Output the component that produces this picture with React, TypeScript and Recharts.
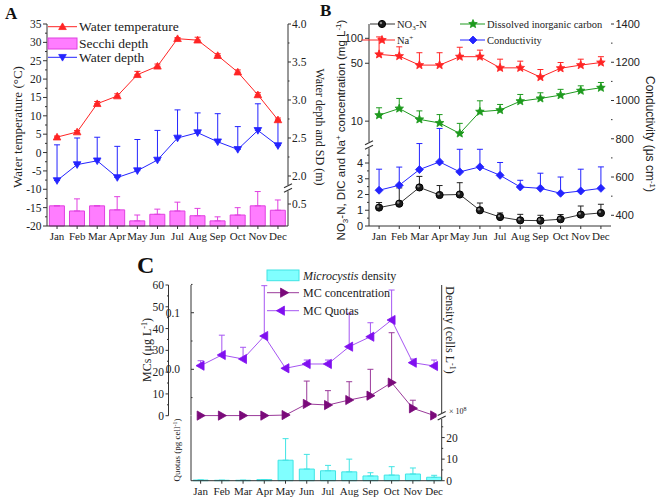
import React from 'react';
import { ComposedChart, Line, Bar, XAxis, YAxis, ErrorBar } from 'recharts';

const months = ['Jan', 'Feb', 'Mar', 'Apr', 'May', 'Jun', 'Jul', 'Aug', 'Sep', 'Oct', 'Nov', 'Dec'];

// panel A
const waterTemp = [4.2, 5.6, 13.3, 15.4, 21.2, 23.5, 31.0, 30.6, 26.4, 21.9, 15.7, 8.9];
const waterTempErr = [0.3, 0.4, 0.6, 0.6, 0.9, 0.6, 0.3, 0.8, 0.5, 0.6, 0.6, 0.5];
const waterDepth = [1.94, 2.15, 2.2, 1.98, 2.07, 2.21, 2.5, 2.57, 2.45, 2.35, 2.6, 2.4];
const waterDepthErr = [0.47, 0.35, 0.31, 0.41, 0.41, 0.39, 0.37, 0.26, 0.37, 0.3, 0.35, 0.33];
const secchi = [0.475, 0.405, 0.475, 0.42, 0.27, 0.36, 0.405, 0.34, 0.27, 0.35, 0.475, 0.415];
const secchiErr = [0, 0.165, 0, 0.18, 0.08, 0.07, 0.12, 0.1, 0.055, 0.1, 0.195, 0.14];

// panel B
const no3 = [1.17, 1.42, 2.45, 1.97, 2.0, 1.0, 0.57, 0.36, 0.34, 0.43, 0.72, 0.83];
const no3Err = [0.32, 1.0, 0.7, 0.6, 0.75, 0.46, 0.26, 0.38, 0.34, 0.3, 0.55, 0.55];
const sodium = [64, 61, 47.5, 47.5, 60, 60, 44, 44, 34, 43.5, 47.5, 51];
const sodiumErr = [40, 18, 19.5, 19.5, 18, 12, 12, 9, 8, 7.5, 8.5, 9];
const dic = [11.8, 14.2, 10.5, 9.5, 7.1, 13.0, 13.6, 17.4, 18.8, 20.6, 23.3, 25.3];
const dicErr = [2.7, 4.6, 2.8, 2.5, 2.3, 4.6, 2.3, 3.6, 3.2, 3.6, 3.4, 4.0];
const conductivity = [531, 557, 639, 679, 627, 653, 609, 548, 541, 515, 527, 541];
const conductivityErr = [110, 95, 136, 175, 118, 92, 67, 35, 79, 85, 114, 112];

// panel C
const mcConc = [0.05, 0.05, 0.05, 0.05, 0.3, 5.4, 4.9, 7.2, 9.2, 15.2, 3.4, 0.1];
const mcConcErr = [0, 0, 0, 0, 0, 10.5, 6.6, 8.4, 12.1, 22.9, 3.7, 0];
const mcQuota = [0.0064, 0.0253, 0.0182, 0.0588, 0.0018, 0.0094, 0.0094, 0.04, 0.0576, 0.0871, 0.0117, 0.0058];
const mcQuotaErr = [0.0088, 0.035, 0.0207, 0.089, 0, 0.007, 0.007, 0.059, 0.0247, 0.053, 0.0065, 0.0106];
const density = [0.3, 0.2, 0.2, 0.5, 9.5, 5.4, 4.6, 4.1, 2.2, 2.6, 3.1, 1.6];
const densityErr = [0, 0, 0, 0, 10, 6.8, 2.5, 5.9, 1.5, 3.9, 2.8, 0.9];

// tick labels
const tempTicks = [-20, -15, -10, -5, 0, 5, 10, 15, 20, 25, 30, 35];
const depthTicks = [2.0, 2.5, 3.0, 3.5, 4.0];
const sdTicks = [0.5];
const no3Ticks = [0, 1, 2, 3, 4];
const concTicks = [10, 50, 100];
const condTicks = [400, 600, 800, 1000, 1200, 1400];
const mcTicks = [0, 10, 20, 30, 40, 50, 60];
const quotaTicks = [0.0, 0.1];
const quotaMinor = [-0.05, 0.05, 0.15];
const densTicks = [0, 10, 20];

const SERIF = '"Liberation Serif", "DejaVu Serif", serif';
const SANS = '"Liberation Sans", Arial, sans-serif';
const AXIS = '#333';
const TXT = '#222';

const RED = '#ff2424';
const BLUE = '#2424ff';
const PINK = '#ff7dff';
const PINK_S = '#e040e0';
const GREEN = '#1e9a1e';
const MC_C = '#7a0a7a';
const MC_C_LINE = '#9a3a9a';
const MC_Q = '#8010f0';
const MC_Q_LINE = '#a656f2';
const CYAN = '#80ffff';
const CYAN_S = '#40e4e4';

// axis ranges (the broken axes are stitched from these)
const D0 = 1.342, D1 = 4.0; // water depth
const S0 = 0.2, S1 = 2.955; // secchi depth
const N1 = 12.83; // NO3-N linear part
const L0 = 0.542, L1 = 148.9; // log part for DIC / Na+
const M1 = 60; // MCs
const Q0 = -0.082, Q1 = 0.149; // MC quotas
const C_PLOT_H = 130.7; // height of the upper plot in panel C

const sdOnDepth = (v: number) => D0 + ((v - S0) / (S1 - S0)) * (D1 - D0);
const logOnLin = (v: number) =>
  ((Math.log10(v) - Math.log10(L0)) / (Math.log10(L1) - Math.log10(L0))) * N1;
const quotaOnMc = (v: number) => ((v - Q0) / (Q1 - Q0)) * M1;

const rowsA = months.map((m, i) => ({
  m,
  temp: waterTemp[i],
  tempE: [0, waterTempErr[i]],
  depth: waterDepth[i],
  depthE: [0, waterDepthErr[i]],
  sd: secchi[i],
  sdE: [0, secchiErr[i]],
}));

const rowsB = months.map((m, i) => ({
  m,
  no3: no3[i],
  no3E: [0, no3Err[i]],
  na: sodium[i],
  naE: [0, sodiumErr[i]],
  dic: dic[i],
  dicE: [0, dicErr[i]],
  cond: conductivity[i],
  condE: [0, conductivityErr[i]],
}));

const rowsC = months.map((m, i) => ({
  m,
  mc: mcConc[i],
  mcE: [0, mcConcErr[i]],
  q: mcQuota[i],
  qE: [0, mcQuotaErr[i]],
  dens: density[i],
  densE: [0, densityErr[i]],
}));

type Kind = 'up' | 'down' | 'left' | 'right' | 'diamond' | 'star' | 'circle';

function Marker({ kind, cx, cy, r, fill, stroke }: { kind: Kind; cx: number; cy: number; r: number; fill: string; stroke?: string }) {
  if (cx == null || cy == null) return null;
  if (kind === 'circle') {
    return (
      <g>
        <circle cx={cx} cy={cy} r={r} fill={fill} stroke={stroke ?? fill} strokeWidth={1} />
        <circle cx={cx - r * 0.3} cy={cy - r * 0.3} r={r * 0.35} fill="#888" />
      </g>
    );
  }
  let pts: number[][] = [];
  if (kind === 'up') pts = [[0, -r], [-r, 0.75 * r], [r, 0.75 * r]];
  if (kind === 'down') pts = [[0, r], [-r, -0.75 * r], [r, -0.75 * r]];
  if (kind === 'right') pts = [[r, 0], [-0.75 * r, -r], [-0.75 * r, r]];
  if (kind === 'left') pts = [[-r, 0], [0.75 * r, -r], [0.75 * r, r]];
  if (kind === 'diamond') pts = [[0, -r], [r, 0], [0, r], [-r, 0]];
  if (kind === 'star') {
    for (let k = 0; k < 10; k++) {
      const a = -Math.PI / 2 + (k * Math.PI) / 5;
      const rr = k % 2 === 0 ? r : r * 0.45;
      pts.push([rr * Math.cos(a), rr * Math.sin(a)]);
    }
  }
  return (
    <polygon
      points={pts.map(([a, b]) => `${cx + a},${cy + b}`).join(' ')}
      fill={fill}
      stroke={stroke ?? fill}
      strokeWidth={0.8}
    />
  );
}

const dotOf = (kind: Kind, r: number, fill: string, stroke?: string) => (p: any) => (
  <Marker key={`${kind}-${p.index}`} kind={kind} cx={p.cx} cy={p.cy} r={r} fill={fill} stroke={stroke} />
);

type TickDef = {
  v: number;
  label?: string;
  minor?: boolean;
  brk?: boolean;
  at?: number;
  inward?: boolean;
  gap?: number;
  vline?: number;
};
type TickOpts = { font: string; size: number; lineX: number; inward?: boolean; len?: number; gap?: number };

const withMinors = (majors: number[], fmt: (v: number) => string): TickDef[] => {
  const out: TickDef[] = [];
  majors.forEach((v, i) => {
    out.push({ v, label: fmt(v) });
    if (i < majors.length - 1) out.push({ v: (v + majors[i + 1]) / 2, minor: true });
  });
  return out;
};

// lineX = where the axis line sits inside its chart
function makeTick(defs: TickDef[], side: 'left' | 'right', o: TickOpts) {
  return (p: any) => {
    const d = defs.find((t) => Math.abs(t.v - p.payload.value) < 1e-9);
    if (!d) return <g />;
    const x = d.at ?? o.lineX;
    const y = p.y;
    const out = side === 'left' ? -1 : 1;
    if (d.brk) {
      return (
        <g>
          <rect x={x - 5} y={y - 3} width={10} height={6} fill="#fff" />
          <line x1={x - 4} y1={y - 0.5} x2={x + 4} y2={y - 4.5} stroke={AXIS} strokeWidth={1.1} />
          <line x1={x - 4} y1={y + 4} x2={x + 4} y2={y} stroke={AXIS} strokeWidth={1.1} />
        </g>
      );
    }
    const inward = d.inward ?? o.inward;
    const full = o.len ?? 4;
    const len = d.minor ? full / 2 : full;
    const dir = inward ? -out : out;
    const gap = d.gap ?? o.gap ?? 2;
    const lx = inward ? x + out * gap : x + out * (full + gap);
    return (
      <g>
        {d.vline && <line x1={x} y1={y} x2={x} y2={y + d.vline} stroke={AXIS} />}
        <line x1={x} y1={y} x2={x + dir * len} y2={y} stroke={AXIS} />
        {d.label && (
          <text
            x={lx}
            y={y}
            dy="0.35em"
            textAnchor={side === 'left' ? 'end' : 'start'}
            fontFamily={o.font}
            fontSize={o.size}
            fill={TXT}
          >
            {d.label}
          </text>
        )}
      </g>
    );
  };
}

const tempDefs = withMinors(tempTicks, (v) => String(v));
const depthDefs: TickDef[] = [
  ...withMinors(depthTicks, (v) => v.toFixed(1)),
  ...sdTicks.map((v) => ({ v: sdOnDepth(v), label: v.toFixed(1) })),
  { v: 1.84, brk: true },
];
const no3Defs: TickDef[] = [
  ...withMinors(no3Ticks, (v) => String(v)),
  { v: 4.5, minor: true },
  { v: 5.13, brk: true },
  ...concTicks.map((v) => ({ v: logOnLin(v), label: String(v) })),
];
const condDefs = withMinors(condTicks, (v) => String(v));
// MCs axis (outer line) and the quota axis (inner line, ticks pointing in)
const mcDefs: TickDef[] = [
  ...withMinors(mcTicks, (v) => String(v)).map((t) => ({ ...t, at: 58.5, vline: t.v === M1 ? C_PLOT_H : undefined })),
  ...quotaTicks.map((v) => ({ v: quotaOnMc(v), label: v.toFixed(1), at: 81, inward: true, gap: 11 })),
  ...quotaMinor.map((v) => ({ v: quotaOnMc(v), minor: true, at: 81, inward: true })),
];
const upperRightDefs: TickDef[] = [{ v: 1 }, { v: 2 }];
const quotaLowDefs: TickDef[] = [{ v: 0.63 }];
const densDefs: TickDef[] = [...withMinors(densTicks, (v) => String(v)), { v: 25, minor: true }, { v: 30, brk: true }];

const yAxisCommon = {
  interval: 0 as const,
  tickSize: 0,
  tickMargin: 0,
  tickLine: false,
  stroke: AXIS,
  allowDecimals: true,
};

function PanelA() {
  return (
    <ComposedChart width={330} height={250} data={rowsA} margin={{ top: 24, right: 0, bottom: 4, left: 0 }} barCategoryGap="12%">
      <XAxis
        dataKey="m"
        scale="band"
        height={20}
        interval={0}
        tickSize={3}
        tickMargin={3}
        stroke={AXIS}
        tick={{ fontFamily: SERIF, fontSize: 11, fill: TXT }}
      />
      <YAxis
        yAxisId="temp"
        width={47}
        domain={[-20, 35]}
        ticks={tempDefs.map((t) => t.v)}
        tick={makeTick(tempDefs, 'left', { font: SERIF, size: 11.5, lineX: 47, len: 4, gap: 1.5 })}
        {...yAxisCommon}
      />
      <YAxis
        yAxisId="depth"
        orientation="right"
        width={42}
        domain={[D0, D1]}
        ticks={depthDefs.map((t) => t.v)}
        tick={makeTick(depthDefs, 'right', { font: SERIF, size: 11.5, lineX: 288, len: 3, gap: 1 })}
        {...yAxisCommon}
      />
      <YAxis yAxisId="sd" hide orientation="right" domain={[S0, S1]} />
      <Bar yAxisId="sd" dataKey="sd" fill={PINK} stroke={PINK_S} strokeWidth={1} isAnimationActive={false}>
        <ErrorBar dataKey="sdE" width={3} stroke={PINK_S} strokeWidth={1} />
      </Bar>
      <Line
        yAxisId="depth"
        dataKey="depth"
        type="linear"
        stroke={BLUE}
        strokeWidth={1}
        dot={dotOf('down', 3.8, BLUE)}
        activeDot={false}
        isAnimationActive={false}
      >
        <ErrorBar dataKey="depthE" width={3} stroke={BLUE} strokeWidth={1} />
      </Line>
      <Line
        yAxisId="temp"
        dataKey="temp"
        type="linear"
        stroke={RED}
        strokeWidth={1}
        dot={dotOf('up', 3.8, RED)}
        activeDot={false}
        isAnimationActive={false}
      >
        <ErrorBar dataKey="tempE" width={3} stroke={RED} strokeWidth={1} />
      </Line>
    </ComposedChart>
  );
}

function PanelB() {
  return (
    <ComposedChart width={331} height={250} data={rowsB} margin={{ top: 24, right: 0, bottom: 4, left: 0 }}>
      <XAxis
        dataKey="m"
        scale="band"
        height={20}
        interval={0}
        tickSize={3}
        tickMargin={3}
        stroke={AXIS}
        tick={{ fontFamily: SERIF, fontSize: 11, fill: TXT }}
      />
      <YAxis
        yAxisId="no3"
        width={39}
        domain={[0, N1]}
        ticks={no3Defs.map((t) => t.v)}
        tick={makeTick(no3Defs, 'left', { font: SANS, size: 11, lineX: 39, len: 4, gap: 2 })}
        {...yAxisCommon}
      />
      <YAxis
        yAxisId="cond"
        orientation="right"
        width={50}
        domain={[344, 1400]}
        ticks={condDefs.map((t) => t.v)}
        tick={makeTick(condDefs, 'right', { font: SANS, size: 11, lineX: 281, len: 3, gap: 1.5 })}
        {...yAxisCommon}
      />
      <YAxis yAxisId="conc" hide orientation="right" scale="log" domain={[L0, L1]} />
      <Line yAxisId="no3" dataKey="no3" type="linear" stroke="#333" strokeWidth={1} dot={dotOf('circle', 3.6, '#1a1a1a', '#000')} activeDot={false} isAnimationActive={false}>
        <ErrorBar dataKey="no3E" width={3} stroke="#222" strokeWidth={1} />
      </Line>
      <Line yAxisId="cond" dataKey="cond" type="linear" stroke={BLUE} strokeWidth={1} dot={dotOf('diamond', 4, BLUE)} activeDot={false} isAnimationActive={false}>
        <ErrorBar dataKey="condE" width={3} stroke={BLUE} strokeWidth={1} />
      </Line>
      <Line yAxisId="conc" dataKey="dic" type="linear" stroke={GREEN} strokeWidth={1} dot={dotOf('star', 4.5, GREEN)} activeDot={false} isAnimationActive={false}>
        <ErrorBar dataKey="dicE" width={3} stroke={GREEN} strokeWidth={1} />
      </Line>
      <Line yAxisId="conc" dataKey="na" type="linear" stroke={RED} strokeWidth={1} dot={dotOf('star', 4.5, RED)} activeDot={false} isAnimationActive={false}>
        <ErrorBar dataKey="naE" width={3} stroke={RED} strokeWidth={1} />
      </Line>
    </ComposedChart>
  );
}

const xPadC = { left: -1, right: -3 };

function PanelCUpper() {
  return (
    <ComposedChart width={370} height={176} data={rowsC} margin={{ top: 25, right: 0, bottom: 20.3, left: 0 }}>
      <XAxis dataKey="m" scale="band" hide padding={xPadC} />
      <YAxis
        yAxisId="mc"
        width={81}
        domain={[0, M1]}
        ticks={mcDefs.map((t) => t.v)}
        tick={makeTick(mcDefs, 'left', { font: SERIF, size: 11.5, lineX: 58.5, len: 3, gap: 1.5 })}
        {...yAxisCommon}
      />
      <YAxis yAxisId="q" hide domain={[Q0, Q1]} />
      <YAxis
        yAxisId="r"
        orientation="right"
        width={38.3}
        domain={[0, 2]}
        ticks={upperRightDefs.map((t) => t.v)}
        tick={makeTick(upperRightDefs, 'right', { font: SERIF, size: 11, lineX: 331.7, inward: true, len: 4 })}
        {...yAxisCommon}
      />
      <Line yAxisId="mc" dataKey="mc" type="linear" stroke={MC_C_LINE} strokeWidth={1} dot={dotOf('right', 4.6, MC_C)} activeDot={false} isAnimationActive={false}>
        <ErrorBar dataKey="mcE" width={3} stroke={MC_C_LINE} strokeWidth={1} />
      </Line>
      <Line yAxisId="q" dataKey="q" type="linear" stroke={MC_Q_LINE} strokeWidth={1} dot={dotOf('left', 4.6, MC_Q)} activeDot={false} isAnimationActive={false}>
        <ErrorBar dataKey="qE" width={3} stroke={MC_Q_LINE} strokeWidth={1} />
      </Line>
    </ComposedChart>
  );
}

function PanelCLower() {
  return (
    <ComposedChart width={370} height={96} data={rowsC} margin={{ top: 10, right: 0, bottom: 1.3, left: 60 }} barCategoryGap="15%">
      <XAxis
        dataKey="m"
        scale="band"
        padding={xPadC}
        height={20}
        interval={0}
        tickSize={3}
        tickMargin={3}
        stroke={AXIS}
        tick={{ fontFamily: SERIF, fontSize: 11, fill: TXT }}
      />
      <YAxis
        yAxisId="q2"
        width={21}
        domain={[0, 1]}
        ticks={quotaLowDefs.map((t) => t.v)}
        tick={makeTick(quotaLowDefs, 'left', { font: SERIF, size: 11, lineX: 81, inward: true, len: 4 })}
        {...yAxisCommon}
      />
      <YAxis
        yAxisId="dens"
        orientation="right"
        width={38.3}
        domain={[0, 30]}
        ticks={densDefs.map((t) => t.v)}
        tick={makeTick(densDefs, 'right', { font: SERIF, size: 11.5, lineX: 331.7, len: 3, gap: 1.5 })}
        {...yAxisCommon}
      />
      <Bar yAxisId="dens" dataKey="dens" fill={CYAN} stroke={CYAN_S} strokeWidth={1} isAnimationActive={false}>
        <ErrorBar dataKey="densE" width={3} stroke={CYAN_S} strokeWidth={1} />
      </Bar>
    </ComposedChart>
  );
}

function Overlay() {
  const lg = { fontFamily: SERIF, fontSize: 13.5, fill: TXT };
  const lgB = { fontFamily: SERIF, fontSize: 10.5, fill: TXT };
  const lgC = { fontFamily: SERIF, fontSize: 12, fill: TXT };
  return (
    <svg width={661} height={502} style={{ position: 'absolute', left: 0, top: 0, pointerEvents: 'none' }}>
      {/* panel letters */}
      <text x={5} y={19} fontFamily={SERIF} fontWeight="bold" fontSize={17} fill="#111">A</text>
      <text x={320} y={16} fontFamily={SERIF} fontWeight="bold" fontSize={17} fill="#111">B</text>
      <text x={137} y={273} fontFamily={SERIF} fontWeight="bold" fontSize={24} fill="#111">C</text>

      {/* axis titles A */}
      <text transform="translate(22,127) rotate(-90)" textAnchor="middle" fontFamily={SERIF} fontSize={13} fill={TXT}>
        Water temperature (°C)
      </text>
      <text transform="translate(316,127) rotate(90)" textAnchor="middle" fontFamily={SERIF} fontSize={12} fill={TXT}>
        Water depth and SD (m)
      </text>

      {/* axis titles B */}
      <text transform="translate(345,130) rotate(-90)" textAnchor="middle" fontFamily={SANS} fontSize={11.5} fill={TXT}>
        NO<tspan dy={3} fontSize={8}>3</tspan>
        <tspan dy={-3}>-N, DIC and Na</tspan>
        <tspan dy={-4} fontSize={8}>+</tspan>
        <tspan dy={4}> concentration (mg L</tspan>
        <tspan dy={-4} fontSize={8}>-1</tspan>
        <tspan dy={4}>)</tspan>
      </text>
      <text transform="translate(646,134) rotate(90)" textAnchor="middle" fontFamily={SANS} fontSize={12} fill={TXT}>
        Conductivity (μs cm<tspan dy={-4} fontSize={8}>-1</tspan>
        <tspan dy={4}>)</tspan>
      </text>

      {/* axis titles C */}
      <text transform="translate(151,350) rotate(-90)" textAnchor="middle" fontFamily={SERIF} fontSize={12} fill={TXT}>
        MCs (μg L<tspan dy={-4} fontSize={8}>-1</tspan>
        <tspan dy={4}>)</tspan>
      </text>
      <text transform="translate(180,450) rotate(-90)" textAnchor="middle" fontFamily={SERIF} fontSize={9} fill={TXT}>
        Quotas (pg cell<tspan dy={-3} fontSize={6}>-1</tspan>
        <tspan dy={3}>)</tspan>
      </text>
      <text transform="translate(446,330) rotate(90)" textAnchor="middle" fontFamily={SERIF} fontSize={12} fill={TXT}>
        Density (cells L<tspan dy={-4} fontSize={8}>-1</tspan>
        <tspan dy={4}>)</tspan>
      </text>
      <text x={449} y={414} fontFamily={SERIF} fontSize={8} fill={TXT}>
        × 10<tspan dy={-3} fontSize={6}>8</tspan>
      </text>

      {/* legend A */}
      <line x1={48} y1={26.7} x2={77} y2={26.7} stroke={RED} />
      <Marker kind="up" cx={62.5} cy={26.7} r={3.8} fill={RED} />
      <text x={79} y={26.7} dy="0.35em" {...lg}>Water temperature</text>
      <rect x={48} y={38} width={29} height={11} fill={PINK} stroke={PINK_S} />
      <text x={79} y={43.5} dy="0.35em" {...lg}>Secchi depth</text>
      <line x1={48} y1={57.3} x2={77} y2={57.3} stroke={BLUE} />
      <Marker kind="down" cx={62.5} cy={57.3} r={3.8} fill={BLUE} />
      <text x={79} y={57.3} dy="0.35em" {...lg}>Water depth</text>

      {/* legend B */}
      <line x1={370} y1={24} x2={395} y2={24} stroke="#333" />
      <Marker kind="circle" cx={382} cy={24} r={3.6} fill="#1a1a1a" stroke="#000" />
      <text x={397} y={24} dy="0.35em" {...lgB}>
        NO<tspan dy={2.5} fontSize={7}>3</tspan>
        <tspan dy={-2.5}>-N</tspan>
      </text>
      <line x1={362} y1={40} x2={395} y2={40} stroke={RED} />
      <Marker kind="star" cx={382} cy={40} r={4.5} fill={RED} />
      <text x={397} y={40} dy="0.35em" {...lgB}>
        Na<tspan dy={-3.5} fontSize={7}>+</tspan>
      </text>
      <line x1={460} y1={24} x2={485} y2={24} stroke={GREEN} />
      <Marker kind="star" cx={473} cy={24} r={4.5} fill={GREEN} />
      <text x={487} y={24} dy="0.35em" {...lgB}>Dissolved inorganic carbon</text>
      <line x1={460} y1={40} x2={485} y2={40} stroke={BLUE} />
      <Marker kind="diamond" cx={473} cy={40} r={4} fill={BLUE} />
      <text x={487} y={40} dy="0.35em" {...lgB}>Conductivity</text>

      {/* legend C */}
      <rect x={267} y={270} width={32} height={10.7} fill={CYAN} stroke={CYAN_S} />
      <text x={303} y={275.3} dy="0.35em" {...lgC}>
        <tspan fontStyle="italic">Microcystis</tspan> density
      </text>
      <line x1={267} y1={292.7} x2={299} y2={292.7} stroke={MC_C_LINE} />
      <Marker kind="right" cx={284} cy={292.7} r={4.6} fill={MC_C} />
      <text x={303} y={292.7} dy="0.35em" {...lgC}>MC concentration</text>
      <line x1={267} y1={310.7} x2={299} y2={310.7} stroke={MC_Q_LINE} />
      <Marker kind="left" cx={281} cy={310.7} r={4.6} fill={MC_Q} />
      <text x={303} y={310.7} dy="0.35em" {...lgC}>MC Quotas</text>
    </svg>
  );
}

export default function App() {
  return (
    <div style={{ position: 'absolute', left: 0, top: 0, width: 661, height: 502, background: '#fff', overflow: 'hidden' }}>
      <div style={{ position: 'absolute', left: 0, top: 0 }}>
        <PanelA />
      </div>
      <div style={{ position: 'absolute', left: 330, top: 0 }}>
        <PanelB />
      </div>
      <div style={{ position: 'absolute', left: 110, top: 260 }}>
        <PanelCUpper />
      </div>
      <div style={{ position: 'absolute', left: 110, top: 406 }}>
        <PanelCLower />
      </div>
      <Overlay />
    </div>
  );
}
